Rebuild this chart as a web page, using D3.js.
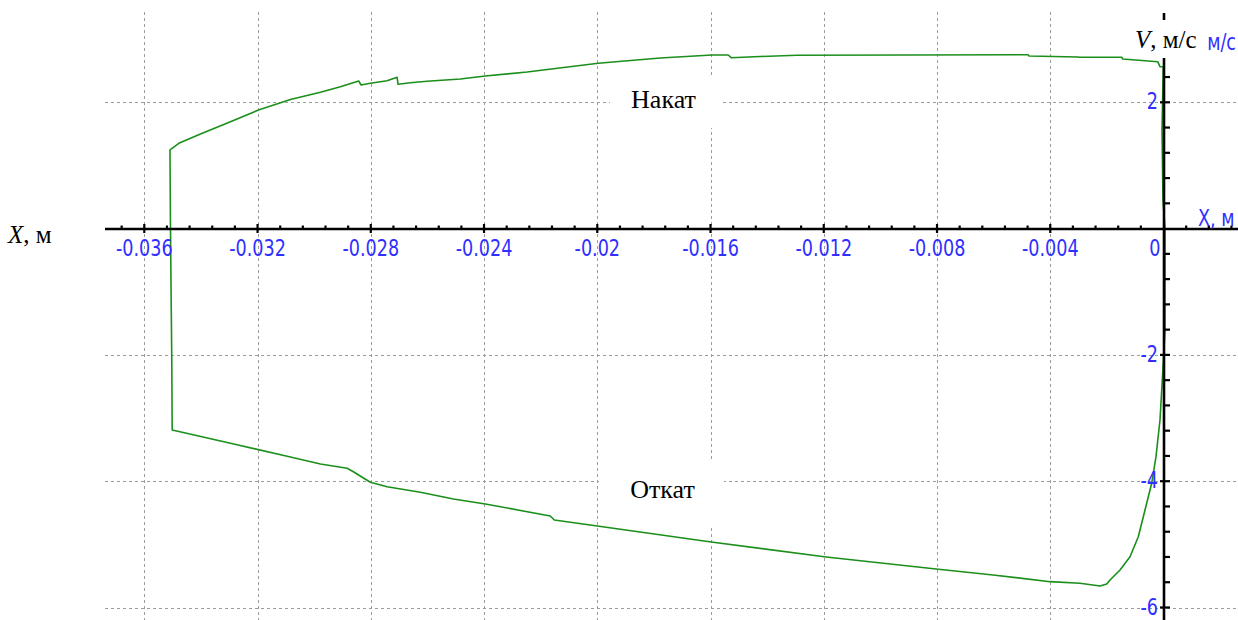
<!DOCTYPE html>
<html>
<head>
<meta charset="utf-8">
<script src="https://cdn.jsdelivr.net/npm/d3@7"></script>
<style>
  html, body { margin: 0; padding: 0; background: #fff; }
  svg { display: block; }
</style>
</head>
<body>
<svg id="chart" width="1238" height="620"></svg>
<script>
// Phase portrait of the recoil cycle: velocity V (m/s) versus displacement X (m).

// Recoil branch (Откат): from the start position out to the far end of travel
const recoilX = [0.000053, 0.000053, -0.000028, -0.000124, -0.000265, -0.000417, -0.000653, -0.000890,
  -0.001183, -0.001536, -0.001889, -0.002005, -0.002242, -0.002948, -0.004007, -0.006019, -0.008032,
  -0.011915, -0.015975, -0.020000, -0.021518, -0.021659, -0.023954, -0.025084, -0.026249, -0.027425,
  -0.028014, -0.028261, -0.028614, -0.028837, -0.029779, -0.030838, -0.032957, -0.035015, -0.035029,
  -0.035050, -0.035075];
const recoilV = [0.000, -1.606, -2.287, -3.031, -3.612, -4.033, -4.456, -4.879,
  -5.196, -5.406, -5.564, -5.628, -5.660, -5.617, -5.591, -5.485, -5.390,
  -5.200, -4.963, -4.709, -4.614, -4.551, -4.361, -4.282, -4.176, -4.087,
  -4.017, -3.949, -3.850, -3.796, -3.728, -3.617, -3.400, -3.189, -2.128,
  -1.178, 0.000];

// Run-out branch (Накат): return stroke back to the start position
const runoutX = [-0.035075, -0.035093, -0.035057, -0.034782, -0.034016, -0.032957, -0.031968, -0.030838,
  -0.029779, -0.029073, -0.028427, -0.028342, -0.028014, -0.027424, -0.027071, -0.027036, -0.026602,
  -0.026012, -0.024837, -0.023954, -0.022482, -0.019965, -0.017776, -0.015951, -0.015375, -0.015269,
  -0.014245, -0.012950, -0.004784, -0.004749, -0.003019, -0.002983, -0.001476, -0.001440, -0.000205,
  -0.000124, -0.000007, -0.000053, -0.000018, 0.000053];
const runoutV = [0.000, 1.245, 1.260, 1.351, 1.498, 1.693, 1.878, 2.044,
  2.158, 2.247, 2.337, 2.274, 2.301, 2.342, 2.396, 2.285, 2.310,
  2.333, 2.369, 2.416, 2.480, 2.618, 2.702, 2.749, 2.749, 2.706,
  2.725, 2.744, 2.754, 2.733, 2.717, 2.713, 2.713, 2.686, 2.643,
  2.564, 2.564, 1.561, 0.453, 0.000];

const xTickValues = [-0.036, -0.032, -0.028, -0.024, -0.020, -0.016, -0.012, -0.008, -0.004, 0];
const xTickLabels = ["-0.036", "-0.032", "-0.028", "-0.024", "-0.02", "-0.016", "-0.012", "-0.008", "-0.004", "0"];
const yTickValues = [2, -2, -4, -6];
const yTickLabels = ["2", "-2", "-4", "-6"];
const branchLabels = ["Накат", "Откат"];
const xAxisName = "X, м";
const yAxisUnit = "м/с";

const W = 1238, H = 620;
const frame = { left: 105, right: 1238, top: 13, bottom: 620 };

const x = d3.scaleLinear().domain([-0.036, 0]).range([144.3, 1163.5]);
const y = d3.scaleLinear().domain([-6, 2]).range([607.5, 102.3]);

const svg = d3.select("#chart");
svg.append("rect").attr("width", W).attr("height", H).attr("fill", "#fff");

const blue = "#2f2fff";
const sans = "'DejaVu Sans', Verdana, sans-serif";
const serif = "'Liberation Serif', 'Times New Roman', serif";
const labelShape = "scale(0.88,1.12)";

// Dashed grid
const grid = svg.append("g")
  .attr("stroke", "#9c9c9c").attr("stroke-width", 1)
  .attr("stroke-dasharray", "3,3").attr("shape-rendering", "crispEdges");
grid.selectAll("line.v").data(xTickValues.filter(d => d !== 0)).join("line")
  .attr("class", "v")
  .attr("x1", d => Math.round(x(d)) + 0.5).attr("x2", d => Math.round(x(d)) + 0.5)
  .attr("y1", 12).attr("y2", frame.bottom);
grid.selectAll("line.h").data(yTickValues).join("line")
  .attr("class", "h")
  .attr("x1", frame.left).attr("x2", frame.right)
  .attr("y1", d => Math.round(y(d)) + 0.5).attr("y2", d => Math.round(y(d)) + 0.5);

// Phase trajectory
const line = d3.line().x(d => x(d[0])).y(d => y(d[1]));
const recoil = recoilX.map((v, i) => [v, recoilV[i]]);
const runout = runoutX.map((v, i) => [v, runoutV[i]]);
svg.append("g").attr("fill", "none").attr("stroke", "#1b8f1b").attr("stroke-width", 1.6)
  .attr("stroke-linejoin", "round")
  .selectAll("path").data([recoil, runout]).join("path")
  .attr("d", line);

// Axes through the origin
const x0 = Math.round(x(0)), y0 = Math.round(y(0));
const axes = svg.append("g").attr("stroke", "#000");
axes.append("line").attr("x1", frame.left).attr("x2", frame.right)
  .attr("y1", y0).attr("y2", y0).attr("stroke-width", 2.6);
axes.append("line").attr("x1", x0).attr("x2", x0)
  .attr("y1", frame.top).attr("y2", frame.bottom).attr("stroke-width", 2.6);

// Minor/major tick marks
const xMinor = d3.range(-46, 4).map(k => ({ v: k * 0.0008, major: k % 5 === 0 }))
  .filter(d => d.v !== 0);
axes.selectAll("line.xt").data(xMinor).join("line")
  .attr("class", "xt")
  .attr("x1", d => x(d.v)).attr("x2", d => x(d.v))
  .attr("y1", d => y0 - (d.major ? 5 : 3.5)).attr("y2", d => y0 + (d.major ? 4 : 1))
  .attr("stroke-width", 2.2);
const yMinor = d3.range(-15, 9).map(k => ({ v: k * 0.4, major: k % 5 === 0 }))
  .filter(d => Math.abs(d.v) > 1e-9);
axes.selectAll("line.yt").data(yMinor).join("line")
  .attr("class", "yt")
  .attr("x1", d => x0 - (d.major ? 4 : 1)).attr("x2", x0 + 6)
  .attr("y1", d => y(d.v)).attr("y2", d => y(d.v))
  .attr("stroke-width", 2.2);

// Tick labels (narrow, tall sans face)
const xLab = svg.append("g").attr("fill", blue).attr("font-family", sans).attr("font-size", 20);
xTickValues.forEach((v, i) => {
  const isZero = v === 0;
  const gx = isZero ? x(v) - 3 : x(v);
  xLab.append("g").attr("transform", `translate(${gx},256) ${labelShape}`)
    .append("text").attr("text-anchor", isZero ? "end" : "middle").text(xTickLabels[i]);
});
const yLab = svg.append("g").attr("fill", blue).attr("font-family", sans).attr("font-size", 20);
yTickValues.forEach((v, i) => {
  yLab.append("g").attr("transform", `translate(1158,${y(v) + 7}) ${labelShape}`)
    .append("text").attr("text-anchor", "end").text(yTickLabels[i]);
});

// Blue axis names next to the axes
svg.append("g").attr("transform", `translate(1198,226) ${labelShape}`)
  .append("text").attr("fill", blue).attr("font-family", sans).attr("font-size", 20).text(xAxisName);
svg.append("g").attr("transform", `translate(1236,50) ${labelShape}`)
  .append("text").attr("fill", blue).attr("font-family", sans).attr("font-size", 20)
  .attr("text-anchor", "end").text(yAxisUnit);

// Serif axis captions
svg.append("rect").attr("x", 1127).attr("y", 20).attr("width", 80).attr("height", 38).attr("fill", "#fff");
const vCap = svg.append("text").attr("x", 1135).attr("y", 48)
  .attr("font-family", serif).attr("font-size", 25).attr("fill", "#000");
vCap.append("tspan").attr("font-style", "italic").text("V");
vCap.append("tspan").text(", м/с");

const xCap = svg.append("text").attr("x", 8).attr("y", 243)
  .attr("font-family", serif).attr("font-size", 25).attr("fill", "#000");
xCap.append("tspan").attr("font-style", "italic").text("X");
xCap.append("tspan").text(", м");

// Branch annotations on white plates
const plates = [
  { text: branchLabels[0], x0: 610, x1: 723, y0: 77, y1: 128, cx: 663.5, base: 108 },
  { text: branchLabels[1], x0: 599, x1: 724, y0: 462, y1: 525, cx: 662.5, base: 498 }
];
plates.forEach(p => {
  svg.append("rect").attr("x", p.x0).attr("y", p.y0)
    .attr("width", p.x1 - p.x0).attr("height", p.y1 - p.y0).attr("fill", "#fff");
  svg.append("text").attr("x", p.cx).attr("y", p.base).attr("text-anchor", "middle")
    .attr("font-family", serif).attr("font-size", 26).attr("fill", "#000").text(p.text);
});
</script>
</body>
</html>
